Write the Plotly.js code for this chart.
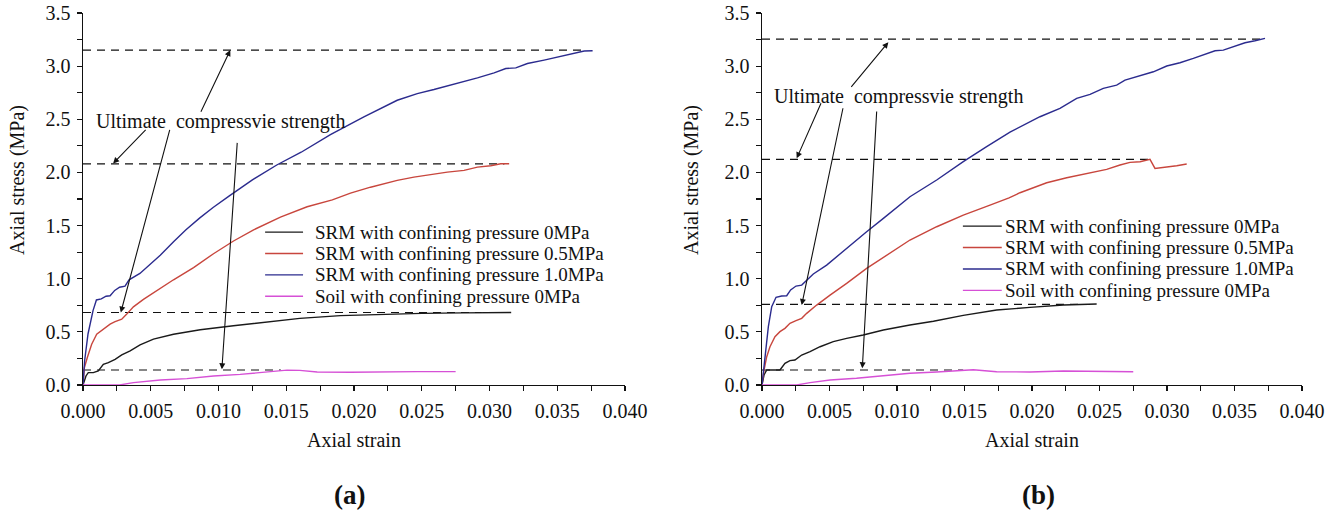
<!DOCTYPE html>
<html>
<head>
<meta charset="utf-8">
<script src="https://cdn.plot.ly/plotly-3.0.1.min.js"></script>
<style>
  html, body { margin: 0; padding: 0; background: #fff; }
  #chart { width: 1338px; height: 512px; }
</style>
</head>
<body>
<div id="chart"></div>
<script>
// ---- Series names and colours ----
const seriesNames = [
  'SRM with confining pressure 0MPa',
  'SRM with confining pressure 0.5MPa',
  'SRM with confining pressure 1.0MPa',
  'Soil with confining pressure 0MPa'
];
const seriesColors = ['#1a1a1a', '#c8463d', '#2b2b8e', '#d650d6'];

// ---- Panel (a): axial strain / axial stress (MPa) ----
const a_srm0_x = [0, 0.00022, 0.00039, 0.00076, 0.00113, 0.0015, 0.00187, 0.00237, 0.00286, 0.00348, 0.00421, 0.0052, 0.00668, 0.00865, 0.0111, 0.0136, 0.016, 0.019, 0.022, 0.025, 0.028, 0.0316];
const a_srm0_y = [0, 0.085, 0.116, 0.116, 0.132, 0.195, 0.211, 0.242, 0.283, 0.321, 0.377, 0.431, 0.478, 0.52, 0.557, 0.594, 0.627, 0.653, 0.666, 0.674, 0.679, 0.682];

const a_srm05_x = [0, 0.0001, 0.00032, 0.00064, 0.00101, 0.0015, 0.002, 0.00237, 0.00286, 0.00323, 0.00372, 0.00446, 0.00545, 0.00668, 0.00816, 0.00963, 0.01111, 0.01259, 0.01457, 0.01654, 0.0184, 0.01974, 0.02122, 0.02319, 0.02442, 0.0259, 0.02689, 0.02812, 0.02911, 0.03009, 0.03083, 0.03145];
const a_srm05_y = [0, 0.163, 0.258, 0.384, 0.478, 0.525, 0.572, 0.597, 0.619, 0.667, 0.735, 0.805, 0.89, 0.99, 1.105, 1.235, 1.355, 1.46, 1.58, 1.677, 1.742, 1.805, 1.861, 1.925, 1.956, 1.987, 2.003, 2.019, 2.05, 2.063, 2.082, 2.082];

const a_srm10_x = [0, 0.00012, 0.00037, 0.00074, 0.00099, 0.00135, 0.0017, 0.002, 0.00234, 0.0027, 0.0031, 0.0034, 0.0042, 0.0049, 0.0057, 0.0067, 0.0076, 0.0086, 0.0096, 0.0108, 0.0125, 0.0143, 0.0161, 0.01826, 0.02073, 0.02319, 0.02467, 0.0259, 0.02713, 0.02812, 0.02911, 0.03034, 0.0312, 0.03194, 0.0328, 0.03403, 0.03527, 0.03625, 0.03699, 0.03761];
const a_srm10_y = [0, 0.228, 0.48, 0.70, 0.80, 0.81, 0.835, 0.84, 0.89, 0.92, 0.93, 0.99, 1.05, 1.13, 1.22, 1.35, 1.46, 1.57, 1.67, 1.78, 1.93, 2.07, 2.19, 2.355, 2.522, 2.679, 2.742, 2.78, 2.821, 2.861, 2.89, 2.937, 2.978, 2.984, 3.025, 3.057, 3.094, 3.12, 3.142, 3.145];

const a_soil_x = [0, 0.0027, 0.00372, 0.00471, 0.0057, 0.00767, 0.00963, 0.0116, 0.01358, 0.01506, 0.016, 0.01728, 0.01974, 0.0222, 0.02467, 0.0275];
const a_soil_y = [0, 0, 0.022, 0.038, 0.047, 0.06, 0.085, 0.1, 0.12, 0.14, 0.138, 0.123, 0.12, 0.126, 0.126, 0.126];

// ultimate compressive strength levels and how far each reference line runs
const a_ucs = [3.15, 2.08, 0.682, 0.141];
const a_ucsEnd = [0.0372, 0.0311, 0.0294, 0.0146];

// ---- Panel (b) ----
const b_srm0_x = [0, 0.00015, 0.00035, 0.00084, 0.00133, 0.0017, 0.00207, 0.00244, 0.00294, 0.00356, 0.0043, 0.00528, 0.00627, 0.0075, 0.00899, 0.01096, 0.0127, 0.01491, 0.01738, 0.01985, 0.02232, 0.02479];
const b_srm0_y = [0, 0.094, 0.141, 0.141, 0.141, 0.204, 0.229, 0.235, 0.282, 0.314, 0.36, 0.408, 0.439, 0.47, 0.517, 0.564, 0.6, 0.655, 0.705, 0.730, 0.752, 0.762];

const b_srm05_x = [0, 0.00015, 0.00035, 0.00059, 0.00096, 0.00133, 0.0017, 0.00207, 0.00252, 0.00294, 0.00331, 0.00405, 0.00504, 0.00627, 0.00775, 0.00923, 0.01096, 0.01294, 0.01491, 0.01689, 0.0183, 0.01911, 0.02109, 0.02257, 0.02405, 0.02553, 0.02652, 0.02726, 0.028, 0.02874, 0.02911, 0.02998, 0.03072, 0.03146];
const b_srm05_y = [0, 0.141, 0.266, 0.36, 0.455, 0.502, 0.533, 0.58, 0.605, 0.627, 0.674, 0.752, 0.846, 0.956, 1.097, 1.223, 1.364, 1.489, 1.599, 1.693, 1.76, 1.809, 1.903, 1.950, 1.991, 2.029, 2.07, 2.095, 2.101, 2.123, 2.038, 2.048, 2.063, 2.079];

const b_srm10_x = [0, 0.00022, 0.00047, 0.00072, 0.00104, 0.00146, 0.00183, 0.00212, 0.00252, 0.00294, 0.00331, 0.0038, 0.00479, 0.00553, 0.00652, 0.00775, 0.00899, 0.01096, 0.01294, 0.01491, 0.01664, 0.01837, 0.02059, 0.02207, 0.02331, 0.0243, 0.02528, 0.02627, 0.02689, 0.028, 0.02899, 0.02998, 0.03096, 0.03195, 0.03294, 0.03356, 0.03417, 0.03491, 0.03578, 0.03652, 0.03726];
const b_srm10_y = [0, 0.27, 0.549, 0.737, 0.825, 0.837, 0.84, 0.894, 0.931, 0.94, 0.987, 1.044, 1.128, 1.207, 1.317, 1.442, 1.568, 1.771, 1.929, 2.101, 2.242, 2.38, 2.524, 2.603, 2.697, 2.735, 2.791, 2.822, 2.869, 2.907, 2.947, 3.001, 3.032, 3.073, 3.114, 3.145, 3.151, 3.182, 3.22, 3.239, 3.261];

const b_soil_x = [0, 0.00257, 0.00356, 0.00504, 0.007, 0.00899, 0.01096, 0.01294, 0.01491, 0.01565, 0.01738, 0.01985, 0.02232, 0.02479, 0.0275];
const b_soil_y = [0, 0, 0.022, 0.047, 0.063, 0.088, 0.11, 0.122, 0.141, 0.144, 0.125, 0.122, 0.132, 0.129, 0.125];

const b_ucs = [3.255, 2.123, 0.758, 0.141];
const b_ucsEnd = [0.0371, 0.0287, 0.0238, 0.0149];

// ---- Annotation text ----
const ucsLabel = 'Ultimate\u00a0 compressvie strength';
const xTitle = 'Axial strain';
const yTitle = 'Axial stress (MPa)';
const panelLabels = ['(a)', '(b)'];

// arrows: [tailX, tailY, headX, headY] in data units
const a_arrows = [
  [0.00865, 2.557, 0.01087, 3.151],
  [0.00473, 2.415, 0.00222, 2.085],
  [0.00643, 2.415, 0.00279, 0.682],
  [0.01139, 2.292, 0.01025, 0.148]
];
const b_arrows = [
  [0.00652, 2.791, 0.00936, 3.225],
  [0.00442, 2.665, 0.00257, 2.133],
  [0.00602, 2.618, 0.00294, 0.752],
  [0.0085, 2.587, 0.00743, 0.157]
];

const SERIF = "'Liberation Serif', 'Times New Roman', serif";
const LINE_W = 1.4;

const panels = [
  {
    xa: 'x', ya: 'y',
    series: [[a_srm0_x, a_srm0_y], [a_srm05_x, a_srm05_y], [a_srm10_x, a_srm10_y], [a_soil_x, a_soil_y]],
    ucs: a_ucs, ucsEnd: a_ucsEnd, arrows: a_arrows,
    labelPos: [0.00081, 2.475],
    legend: { x0: 0.336, x1: 0.406, xt: 0.424, y0: 0.411, dy: 0.0575 }
  },
  {
    xa: 'x2', ya: 'y2',
    series: [[b_srm0_x, b_srm0_y], [b_srm05_x, b_srm05_y], [b_srm10_x, b_srm10_y], [b_soil_x, b_soil_y]],
    ucs: b_ucs, ucsEnd: b_ucsEnd, arrows: b_arrows,
    labelPos: [0.00074, 2.71],
    legend: { x0: 0.372, x1: 0.444, xt: 0.446, y0: 0.427, dy: 0.0575 }
  }
];

const traces = [];
const shapes = [];
const annotations = [];

panels.forEach((p) => {
  // dashed ultimate-strength lines
  p.ucs.forEach((v, i) => {
    traces.push({
      type: 'scatter', mode: 'lines', xaxis: p.xa, yaxis: p.ya,
      x: [0, p.ucsEnd[i]], y: [v, v],
      line: { color: '#111', width: 1.2, dash: '8px,6px' },
      showlegend: false, hoverinfo: 'skip'
    });
  });
  // stress-strain curves
  p.series.forEach((s, i) => {
    traces.push({
      type: 'scatter', mode: 'lines', xaxis: p.xa, yaxis: p.ya,
      x: s[0], y: s[1], name: seriesNames[i],
      line: { color: seriesColors[i], width: LINE_W },
      showlegend: false
    });
  });
  // label and arrows
  annotations.push({
    xref: p.xa, yref: p.ya, x: p.labelPos[0], y: p.labelPos[1],
    xanchor: 'left', yanchor: 'middle', text: ucsLabel, showarrow: false,
    font: { family: SERIF, size: 20, color: '#111' }
  });
  p.arrows.forEach(a => {
    annotations.push({
      xref: p.xa, yref: p.ya, axref: p.xa, ayref: p.ya,
      x: a[2], y: a[3], ax: a[0], ay: a[1], text: '',
      showarrow: true, arrowhead: 2, arrowsize: 1.1, arrowwidth: 1.1,
      arrowcolor: '#111', standoff: 0, startstandoff: 0
    });
  });
  // legend block
  const dx = p.xa === 'x' ? 'x domain' : 'x2 domain';
  const dy = p.ya === 'y' ? 'y domain' : 'y2 domain';
  seriesNames.forEach((nm, i) => {
    const yy = p.legend.y0 - i * p.legend.dy;
    shapes.push({
      type: 'line', xref: dx, yref: dy,
      x0: p.legend.x0, x1: p.legend.x1, y0: yy, y1: yy,
      line: { color: seriesColors[i], width: LINE_W }
    });
    annotations.push({
      xref: dx, yref: dy, x: p.legend.xt, y: yy,
      xanchor: 'left', yanchor: 'middle', text: nm, showarrow: false,
      font: { family: SERIF, size: 19, color: '#111' }
    });
  });
});

// axis titles on y and panel letters
const W = 1338, TOP = 13, BOT = 385;
const px2x = px => px / W;
const px2y = py => (BOT - py) / (BOT - TOP);
[[17, 180], [691, 180]].forEach(pos => {
  annotations.push({
    xref: 'paper', yref: 'paper', x: px2x(pos[0]), y: px2y(pos[1]),
    xanchor: 'center', yanchor: 'middle', textangle: -90, text: yTitle,
    showarrow: false, font: { family: SERIF, size: 20, color: '#111' }
  });
});
[[349, 495], [1038, 495]].forEach((pos, i) => {
  annotations.push({
    xref: 'paper', yref: 'paper', x: px2x(pos[0]), y: px2y(pos[1]),
    xanchor: 'center', yanchor: 'middle', text: '<b>' + panelLabels[i] + '</b>',
    showarrow: false, font: { family: SERIF, size: 27, color: '#111' }
  });
});

const tickFont = { family: SERIF, size: 20, color: '#111' };
function baseX(domain, anchor) {
  return {
    domain: domain, anchor: anchor, range: [0, 0.04], tick0: 0, dtick: 0.005,
    tickformat: '.3f', ticks: 'outside', ticklen: 5, tickwidth: 1.2, tickcolor: '#111',
    minor: { dtick: 0.0025, ticks: 'outside', ticklen: 5, tickwidth: 1.2, tickcolor: '#111' },
    showline: true, linecolor: '#111', linewidth: 1.4, showgrid: false, zeroline: false,
    tickfont: tickFont, ticklabelstandoff: 3,
    title: { text: xTitle, font: { family: SERIF, size: 20, color: '#111' }, standoff: 11 }
  };
}
function baseY(domain, anchor) {
  return {
    domain: domain, anchor: anchor, range: [0, 3.5], tick0: 0, dtick: 0.5,
    tickformat: '.1f', ticks: 'outside', ticklen: 5, tickwidth: 1.2, tickcolor: '#111',
    minor: { dtick: 0.25, ticks: 'outside', ticklen: 5, tickwidth: 1.2, tickcolor: '#111' },
    showline: true, linecolor: '#111', linewidth: 1.4, showgrid: false, zeroline: false,
    tickfont: tickFont, ticklabelstandoff: 2
  };
}
function topX(over, anchor) {
  return {
    overlaying: over, anchor: anchor, side: 'top', range: [0, 0.04], tick0: 0, dtick: 0.0025,
    ticks: 'inside', ticklen: 5, tickwidth: 1.2, tickcolor: '#111', showticklabels: false,
    showline: true, linecolor: '#111', linewidth: 1.4, showgrid: false, zeroline: false
  };
}
function rightY(over, anchor) {
  return {
    overlaying: over, anchor: anchor, side: 'right', range: [0, 3.5], tick0: 0, dtick: 0.25,
    ticks: 'inside', ticklen: 5, tickwidth: 1.2, tickcolor: '#111', showticklabels: false,
    showline: true, linecolor: '#111', linewidth: 1.4, showgrid: false, zeroline: false
  };
}

const dA = [83 / W, 625 / W];
const dB = [762 / W, 1302 / W];

const layout = {
  width: W, height: 512,
  margin: { l: 0, r: 0, t: TOP, b: 512 - BOT, pad: 0 },
  paper_bgcolor: '#fff', plot_bgcolor: 'rgba(0,0,0,0)',
  showlegend: false,
  xaxis: baseX(dA, 'y'),
  yaxis: baseY([0, 1], 'x'),
  xaxis2: baseX(dB, 'y2'),
  yaxis2: baseY([0, 1], 'x2'),
  xaxis3: topX('x', 'y'),
  yaxis3: rightY('y', 'x'),
  xaxis4: topX('x2', 'y2'),
  yaxis4: rightY('y2', 'x2'),
  shapes: shapes,
  annotations: annotations
};

Plotly.newPlot('chart', traces, layout, { staticPlot: true, displayModeBar: false });
</script>
</body>
</html>
